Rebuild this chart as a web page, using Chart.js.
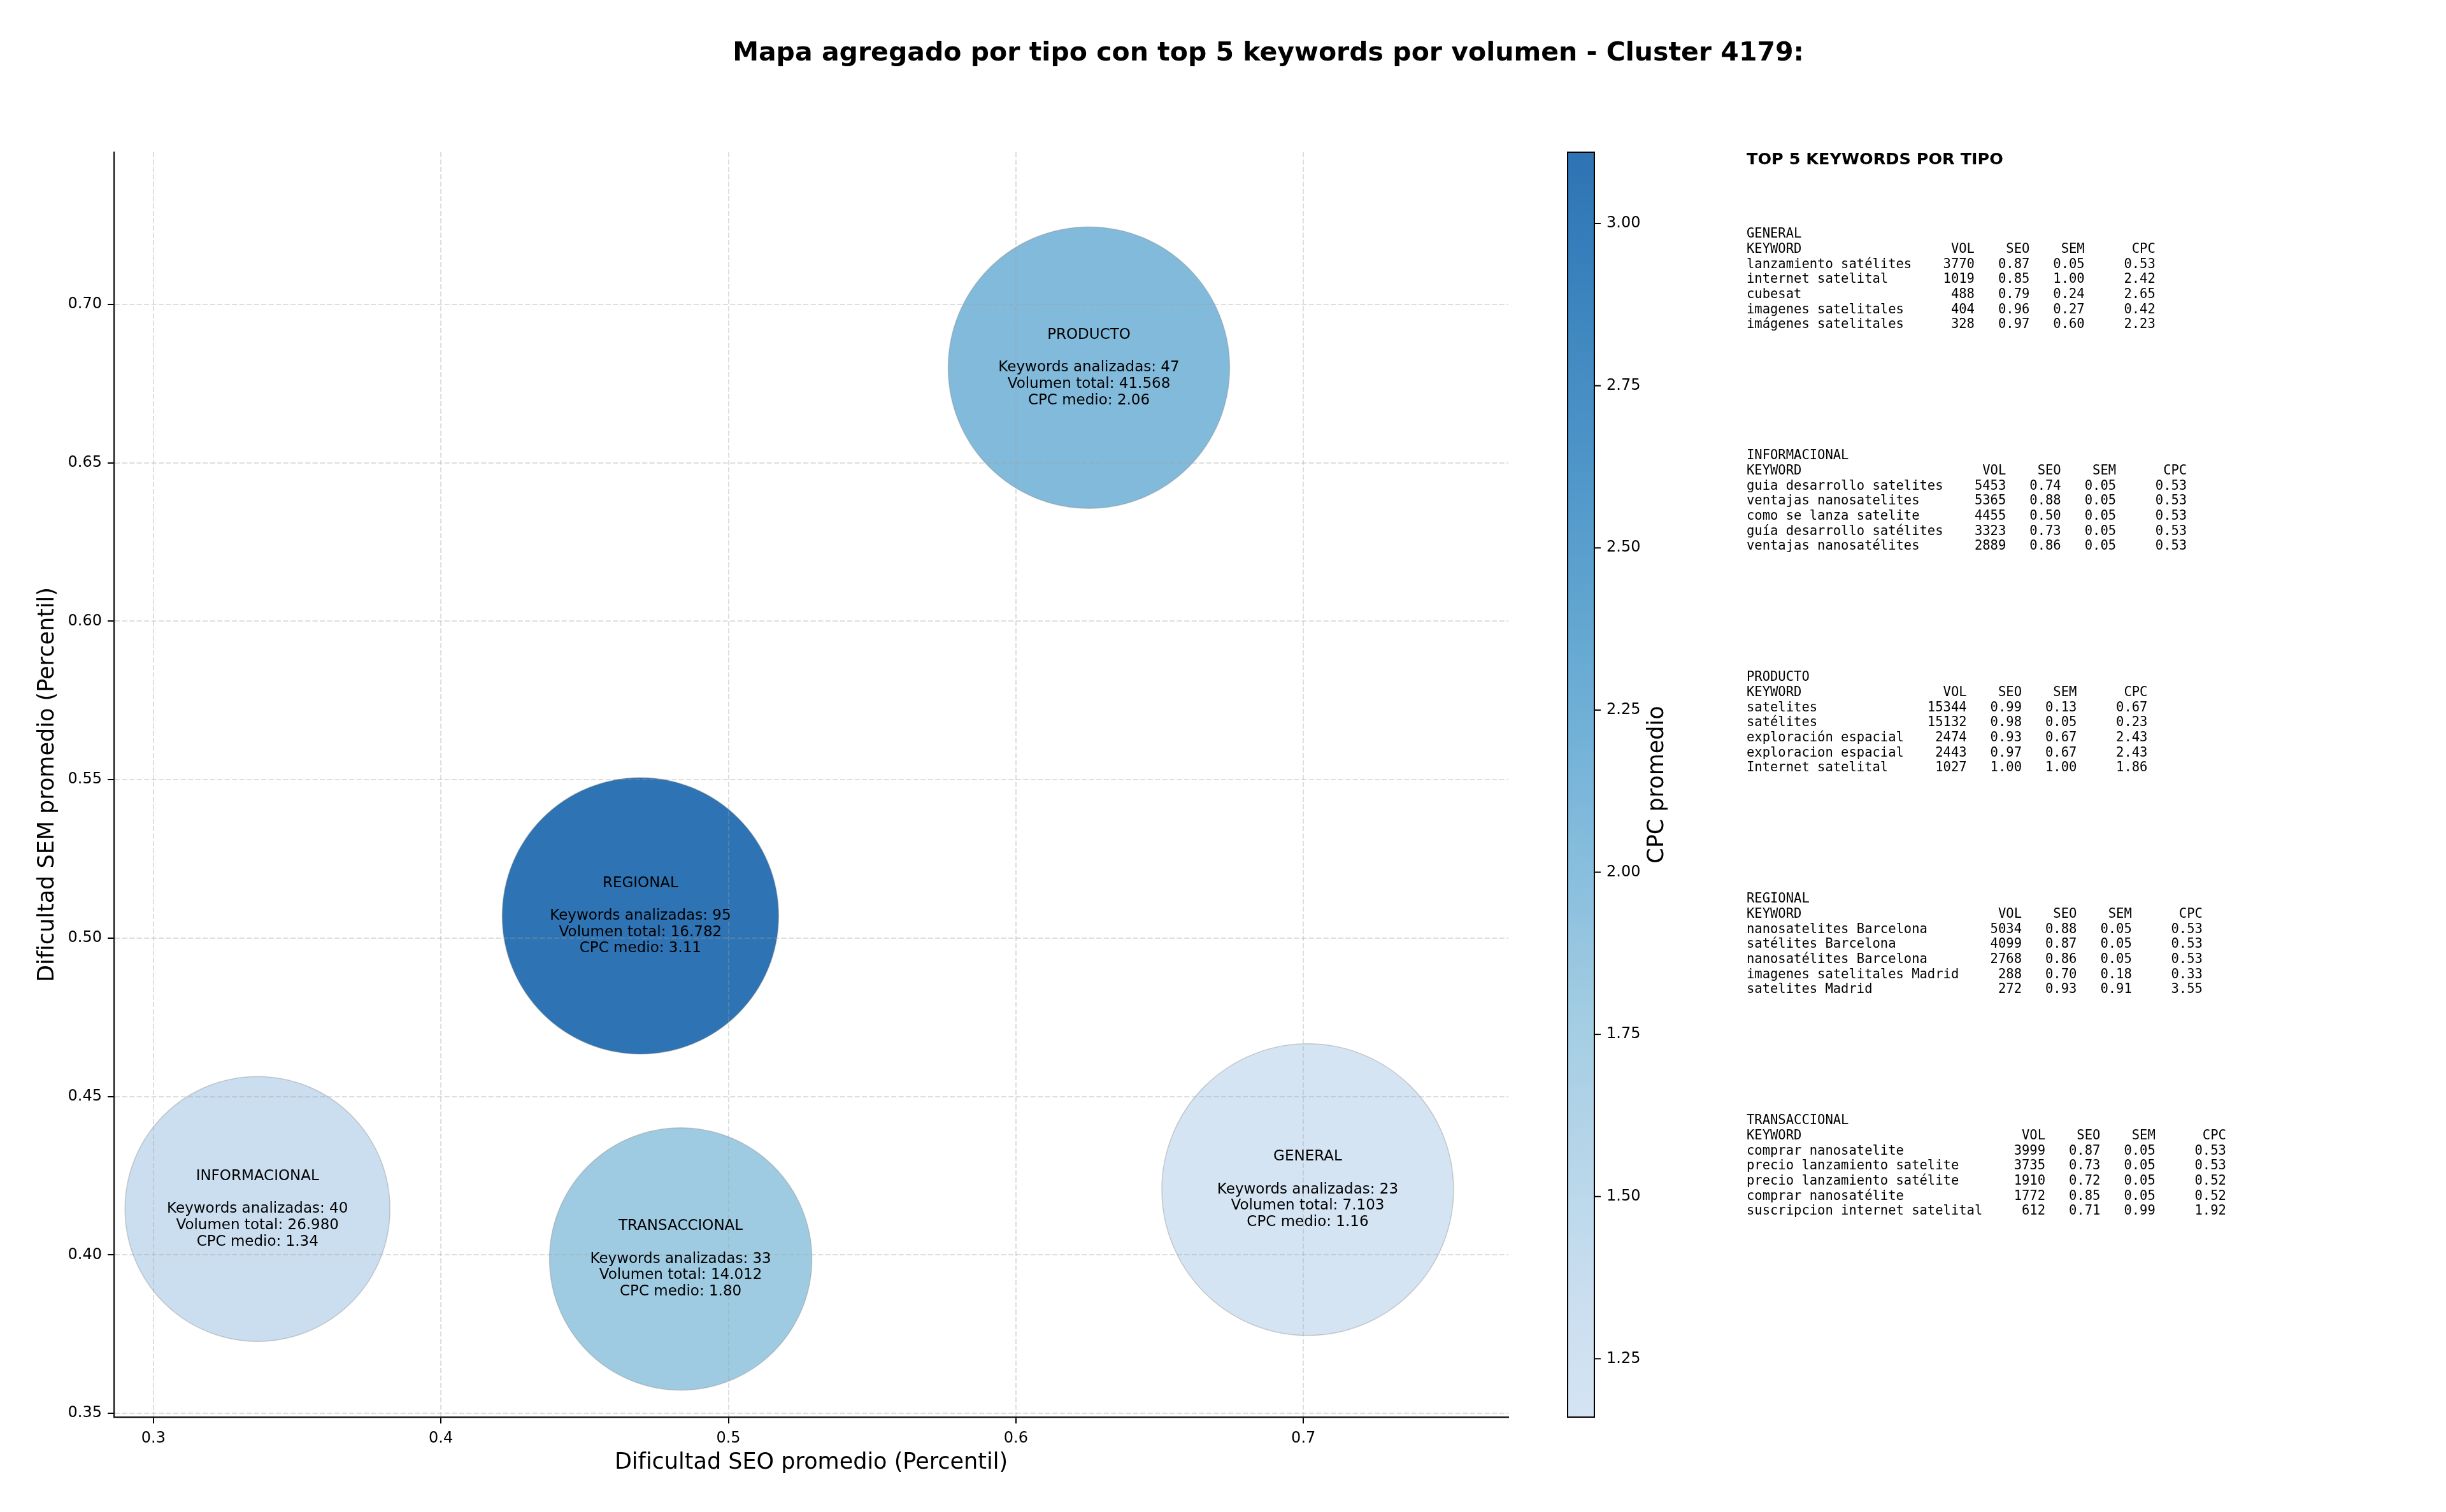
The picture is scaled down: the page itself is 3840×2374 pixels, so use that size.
<!DOCTYPE html>
<html lang="es">
<head>
<meta charset="utf-8">
<title>Mapa agregado por tipo - Cluster 4179</title>
<script src="https://cdn.jsdelivr.net/npm/chart.js@4.4.1/dist/chart.umd.min.js"></script>
<style>
  html, body { margin: 0; padding: 0; background: #fff; }
  #wrap { position: relative; width: 3840px; height: 2374px; }
</style>
</head>
<body>
<div id="wrap"><canvas id="mapa" width="3840" height="2374"></canvas></div>
<script>
// --- DATOS ---
const tipos = ['GENERAL', 'INFORMACIONAL', 'PRODUCTO', 'REGIONAL', 'TRANSACCIONAL'];
const seoMedio = [0.7015, 0.3362, 0.6254, 0.4694, 0.4834];
const semMedio = [0.4206, 0.4145, 0.6800, 0.5070, 0.3987];
const cpcMedio = [1.16, 1.34, 2.06, 3.11, 1.80];
const numKeywords = [23, 40, 47, 95, 33];
const volumenTotal = [7103, 26980, 41568, 16782, 14012];
const radioBurbuja = [229, 208, 221, 217, 206];

const ticksX = [0.3, 0.4, 0.5, 0.6, 0.7];
const ticksY = [0.35, 0.40, 0.45, 0.50, 0.55, 0.60, 0.65, 0.70];
const ticksCpc = [1.25, 1.50, 1.75, 2.00, 2.25, 2.50, 2.75, 3.00];

// keyword, volumen, seo, sem, cpc
const topGeneral = [
    ['lanzamiento satélites', 3770, 0.87, 0.05, 0.53],
    ['internet satelital', 1019, 0.85, 1.00, 2.42],
    ['cubesat', 488, 0.79, 0.24, 2.65],
    ['imagenes satelitales', 404, 0.96, 0.27, 0.42],
    ['imágenes satelitales', 328, 0.97, 0.60, 2.23]
];
const topInformacional = [
    ['guia desarrollo satelites', 5453, 0.74, 0.05, 0.53],
    ['ventajas nanosatelites', 5365, 0.88, 0.05, 0.53],
    ['como se lanza satelite', 4455, 0.50, 0.05, 0.53],
    ['guía desarrollo satélites', 3323, 0.73, 0.05, 0.53],
    ['ventajas nanosatélites', 2889, 0.86, 0.05, 0.53]
];
const topProducto = [
    ['satelites', 15344, 0.99, 0.13, 0.67],
    ['satélites', 15132, 0.98, 0.05, 0.23],
    ['exploración espacial', 2474, 0.93, 0.67, 2.43],
    ['exploracion espacial', 2443, 0.97, 0.67, 2.43],
    ['Internet satelital', 1027, 1.00, 1.00, 1.86]
];
const topRegional = [
    ['nanosatelites Barcelona', 5034, 0.88, 0.05, 0.53],
    ['satélites Barcelona', 4099, 0.87, 0.05, 0.53],
    ['nanosatélites Barcelona', 2768, 0.86, 0.05, 0.53],
    ['imagenes satelitales Madrid', 288, 0.70, 0.18, 0.33],
    ['satelites Madrid', 272, 0.93, 0.91, 3.55]
];
const topTransaccional = [
    ['comprar nanosatelite', 3999, 0.87, 0.05, 0.53],
    ['precio lanzamiento satelite', 3735, 0.73, 0.05, 0.53],
    ['precio lanzamiento satélite', 1910, 0.72, 0.05, 0.52],
    ['comprar nanosatélite', 1772, 0.85, 0.05, 0.52],
    ['suscripcion internet satelital', 612, 0.71, 0.99, 1.92]
];
const topPorTipo = [topGeneral, topInformacional, topProducto, topRegional, topTransaccional];

// --- CONFIG GLOBAL ---
Chart.defaults.font.family = "'DejaVu Sans', sans-serif";
Chart.defaults.color = '#000';

// colormap Blues (matplotlib), usado en el tramo 0.2 - 0.8
const blues = [[247,251,255],[222,235,247],[198,219,239],[158,202,225],[107,174,214],[66,146,198],[33,113,181],[8,81,156],[8,48,107]];
const cpcMin = Math.min(...cpcMedio);
const cpcMax = Math.max(...cpcMedio);

function colorBlues(t) {
    const p = Math.max(0, Math.min(1, t)) * 8;
    const i = Math.min(7, Math.floor(p));
    const f = p - i;
    return blues[i].map((c, k) => Math.round(c + (blues[i + 1][k] - c) * f));
}
function colorCpc(v, alpha = 0.9) {
    const t = (v - cpcMin) / (cpcMax - cpcMin);
    const [r, g, b] = colorBlues(0.2 + 0.6 * t);
    return `rgba(${r},${g},${b},${alpha})`;
}
function miles(n) {
    return String(n).replace(/\B(?=(\d{3})+(?!\d))/g, '.');
}

// --- PLUGINS ---
const tituloPrincipal = {
    id: 'tituloPrincipal',
    afterDraw(chart) {
        const ctx = chart.ctx;
        ctx.save();
        ctx.font = "bold 41px 'DejaVu Sans'";
        ctx.fillStyle = '#000';
        ctx.textAlign = 'center';
        ctx.textBaseline = 'middle';
        ctx.fillText('Mapa agregado por tipo con top 5 keywords por volumen - Cluster 4179:', 1991, 84);
        ctx.restore();
    }
};

// textos dentro de cada burbuja
const etiquetasBurbujas = {
    id: 'etiquetasBurbujas',
    afterDraw(chart) {
        const ctx = chart.ctx;
        const meta = chart.getDatasetMeta(0);
        ctx.save();
        ctx.font = "23px 'DejaVu Sans'";
        ctx.fillStyle = '#000';
        ctx.textAlign = 'center';
        ctx.textBaseline = 'middle';
        meta.data.forEach((pt, i) => {
            const lineas = [
                tipos[i],
                '',
                `Keywords analizadas: ${numKeywords[i]}`,
                `Volumen total: ${miles(volumenTotal[i])}`,
                `CPC medio: ${cpcMedio[i].toFixed(2)}`
            ];
            lineas.forEach((l, k) => ctx.fillText(l, pt.x, pt.y + (k - 2) * 25.7));
        });
        ctx.restore();
    }
};

// barra de color CPC
const barraColor = {
    id: 'barraColor',
    afterDraw(chart) {
        const ctx = chart.ctx;
        const ca = chart.chartArea;
        const x0 = ca.right + 93, w = 42;
        const top = ca.top, bottom = ca.bottom, h = bottom - top;
        ctx.save();
        const grad = ctx.createLinearGradient(0, bottom, 0, top);
        for (let k = 0; k <= 40; k++) {
            const t = k / 40;
            grad.addColorStop(t, colorCpc(cpcMin + t * (cpcMax - cpcMin)));
        }
        ctx.fillStyle = grad;
        ctx.fillRect(x0, top, w, h);
        ctx.strokeStyle = '#000';
        ctx.lineWidth = 2;
        ctx.strokeRect(x0, top, w, h);

        ctx.font = "24px 'DejaVu Sans'";
        ctx.fillStyle = '#000';
        ctx.textAlign = 'left';
        ctx.textBaseline = 'middle';
        ticksCpc.forEach(v => {
            const y = bottom - (v - cpcMin) / (cpcMax - cpcMin) * h;
            ctx.beginPath();
            ctx.moveTo(x0 + w, y);
            ctx.lineTo(x0 + w + 10, y);
            ctx.stroke();
            ctx.fillText(v.toFixed(2), x0 + w + 19, y);
        });

        ctx.translate(x0 + 141, top + h / 2);
        ctx.rotate(-Math.PI / 2);
        ctx.font = "35px 'DejaVu Sans'";
        ctx.textAlign = 'center';
        ctx.fillText('CPC promedio', 0, 0);
        ctx.restore();
    }
};

// panel de texto con el top 5 por tipo
const panelTop = {
    id: 'panelTop',
    afterDraw(chart) {
        const ctx = chart.ctx;
        const x = 2742;
        ctx.save();
        ctx.fillStyle = '#000';
        ctx.textAlign = 'left';
        ctx.textBaseline = 'middle';
        ctx.font = "bold 25.5px 'DejaVu Sans'";
        ctx.fillText('TOP 5 KEYWORDS POR TIPO', x, 251);

        ctx.font = "20.5px 'DejaVu Sans Mono'";
        const alto = 23.65;
        tipos.forEach((tipo, b) => {
            const filas = topPorTipo[b];
            const ancho = Math.max(...filas.map(f => f[0].length)) + 2;
            const lineas = [
                tipo,
                'KEYWORD'.padEnd(ancho) + 'VOL'.padStart(6) + 'SEO'.padStart(7) + 'SEM'.padStart(7) + 'CPC'.padStart(9)
            ];
            filas.forEach(f => {
                lineas.push(f[0].padEnd(ancho) + String(f[1]).padStart(6) + f[2].toFixed(2).padStart(7)
                    + f[3].toFixed(2).padStart(7) + f[4].toFixed(2).padStart(9));
            });
            const y0 = 368 + b * 348;
            lineas.forEach((l, k) => ctx.fillText(l, x, y0 + k * alto));
        });
        ctx.restore();
    }
};

// --- GRAFICO ---
const gridComun = { color: 'rgba(160,160,160,0.35)', lineWidth: 2, tickColor: '#000', tickLength: 10, tickWidth: 2, z: 1 };
const bordeComun = { display: true, color: '#111', width: 2.2, dash: [8, 3.5], z: 1 };

new Chart(document.getElementById('mapa'), {
    type: 'bubble',
    data: {
        datasets: [{
            data: tipos.map((t, i) => ({ x: seoMedio[i], y: semMedio[i], r: radioBurbuja[i] })),
            backgroundColor: cpcMedio.map(v => colorCpc(v)),
            borderColor: 'rgba(120,120,120,0.35)',
            borderWidth: 1.5
        }]
    },
    options: {
        responsive: false,
        animation: false,
        events: [],
        layout: { autoPadding: false, padding: { top: 239, right: 1472, bottom: 0, left: 0 } },
        plugins: {
            legend: { display: false },
            tooltip: { enabled: false },
            title: { display: false }
        },
        scales: {
            x: {
                type: 'linear',
                position: 'bottom',
                min: 0.2863,
                max: 0.7713,
                afterBuildTicks: s => { s.ticks = ticksX.map(v => ({ value: v })); },
                afterFit: s => { s.height = 149; },
                ticks: { color: '#000', font: { size: 24 }, padding: 9, autoSkip: false, maxRotation: 0,
                         callback: v => Number(v).toFixed(1) },
                grid: gridComun,
                border: bordeComun,
                title: { display: true, text: 'Dificultad SEO promedio (Percentil)', color: '#000',
                         font: { size: 35 }, padding: { top: 4, bottom: 56 } }
            },
            y: {
                type: 'linear',
                position: 'left',
                min: 0.3488,
                max: 0.748,
                afterBuildTicks: s => { s.ticks = ticksY.map(v => ({ value: v })); },
                afterFit: s => { s.width = 179; },
                ticks: { color: '#000', font: { size: 24 }, padding: 9, autoSkip: false,
                         callback: v => Number(v).toFixed(2) },
                grid: gridComun,
                border: bordeComun,
                title: { display: true, text: 'Dificultad SEM promedio (Percentil)', color: '#000',
                         font: { size: 35 }, padding: { top: 54, bottom: 4 } }
            }
        }
    },
    plugins: [etiquetasBurbujas, barraColor, panelTop, tituloPrincipal]
});
</script>
</body>
</html>
